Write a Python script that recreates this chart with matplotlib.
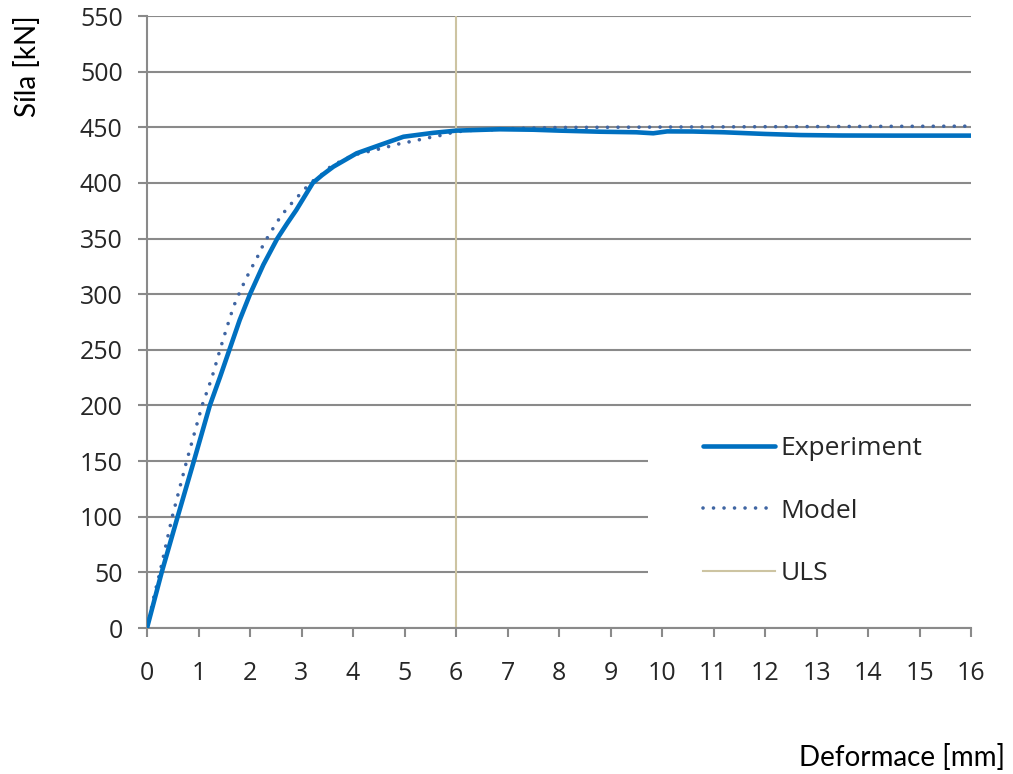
import matplotlib
matplotlib.use("Agg")
import matplotlib.pyplot as plt
from matplotlib.patches import Rectangle

# Load-deformation data
exp_x = [0, 0.285, 0.595, 0.91, 1.22, 1.42, 1.60, 1.80, 2.0, 2.26, 2.53, 2.72, 2.90,
         3.22, 3.40, 3.62, 4.07, 4.52, 4.98, 5.56, 6.01, 6.85, 7.5, 8.0, 8.8, 9.5,
         9.83, 10.1, 10.6, 11.2, 12.0, 12.7, 13.5, 14.5, 15.5, 16.0]
exp_y = [0, 50, 100, 150, 200, 225.8, 250, 276.8, 300, 326.5, 350, 363.5, 375.7,
         400, 407, 414.6, 426.6, 434, 441.5, 445, 447, 448.2, 447.8, 447, 446, 445.5,
         444.6, 446.3, 446.2, 445.5, 444, 443, 442.6, 442.5, 442.5, 442.5]

model_x = [0, 0.058, 0.136, 0.25, 0.49, 0.77, 1.07, 1.26, 1.43, 1.55, 1.68, 1.77,
           1.91, 2.0, 2.15, 2.24, 2.34, 2.52, 2.63, 2.76, 2.90, 3.03, 3.20, 3.38,
           3.54, 3.71, 3.94, 4.13, 4.33, 4.52, 4.72, 4.93, 5.14, 5.33, 5.54, 5.74,
           5.93, 6.2, 6.63, 7.2, 8.0, 10.0, 12.0, 14.0, 16.0]
model_y = [0, 11.7, 28.6, 50, 100, 150, 200, 225, 252, 270, 288.8, 298.6,
           312.8, 321, 334, 342.7, 351, 364.6, 371.8, 379.3, 386.2, 393, 401, 407,
           413.7, 418.2, 423.6, 426.5, 428.5, 430.6, 433, 435.5, 437.3, 439.2, 441.3, 443,
           445.3, 447, 447.6, 449, 449.8, 450.2, 450.5, 450.8, 451]

uls_x = 6
x_ticks = list(range(0, 17))
y_ticks = list(range(0, 551, 50))

FONT = "Open Sans"
TEXT_COLOR = "#262626"
GRID_COLOR = "#8a8a8a"

fig = plt.figure(figsize=(10.13, 7.74), dpi=100)
W, H = 1013, 774
ax = fig.add_axes([147 / W, 1 - 628 / H, (971 - 147) / W, (628 - 16) / H])

ax.set_xlim(0, 16)
ax.set_ylim(0, 550)
ax.set_xticks(x_ticks)
ax.set_yticks(y_ticks)
ax.set_xticklabels([str(v) for v in x_ticks], fontfamily=FONT, fontsize=18,
                   color=TEXT_COLOR)
ax.set_yticklabels([str(v) for v in y_ticks], fontfamily=FONT, fontsize=18,
                   color=TEXT_COLOR)

ax.set_axisbelow(True)
ax.grid(axis="y", color=GRID_COLOR, linewidth=1.5)
for side in ("top", "right"):
    ax.spines[side].set_visible(False)
for side in ("left", "bottom"):
    ax.spines[side].set_color(GRID_COLOR)
    ax.spines[side].set_linewidth(1.5)
ax.tick_params(axis="y", direction="out", length=6.5, width=1.5, color=GRID_COLOR, pad=11)
ax.tick_params(axis="x", direction="out", length=6.5, width=1.5, color=GRID_COLOR, pad=17)

# blank area behind the legend
ax.add_patch(Rectangle(((648 - 147) / 824, 0.02), 1.0, 0.33, transform=ax.transAxes,
                       facecolor="white", edgecolor="none", zorder=1, clip_on=False))

ax.axvline(uls_x, color="#cdc4a2", linewidth=1.5, zorder=2, label="ULS")
ax.plot(model_x, model_y, color="#3f65a3", linewidth=2.6, linestyle=(0, (0.01, 2.9)),
        dash_capstyle="round", zorder=3, label="Model")
ax.plot(exp_x, exp_y, color="#0070c0", linewidth=3.3, solid_capstyle="round",
        solid_joinstyle="round", zorder=4, label="Experiment")

handles, labels = ax.get_legend_handles_labels()
order = [labels.index(n) for n in ("Experiment", "Model", "ULS")]
leg = ax.legend([handles[i] for i in order], [labels[i] for i in order],
                loc="center left", bbox_to_anchor=(703 / W, 1 - 511 / H),
                bbox_transform=fig.transFigure, frameon=False, borderpad=0,
                borderaxespad=0, handlelength=2.73, handletextpad=0.22,
                labelspacing=1.42, prop={"family": FONT, "size": 19})
for t in leg.get_texts():
    t.set_color(TEXT_COLOR)

fig.text(1005 / W, 1 - 757 / H, "Deformace [mm]", ha="right", va="center",
         fontfamily="Lato", fontsize=20, color="black")
fig.text(27 / W, 1 - 66 / H, "Síla [kN]", ha="center", va="center", rotation=90,
         fontfamily="Lato", fontsize=20, color="black")

fig.savefig("out.png", dpi=100)
